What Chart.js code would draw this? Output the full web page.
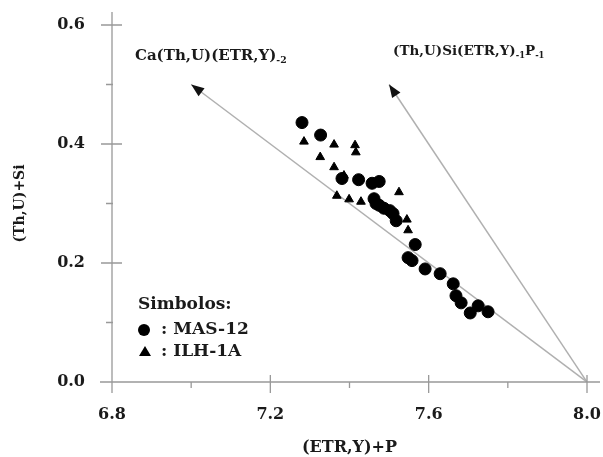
<!DOCTYPE html>
<html>
<head>
<meta charset="utf-8">
<script src="https://cdn.jsdelivr.net/npm/chart.js@4.4.1/dist/chart.umd.min.js"></script>
<style>
  html, body { margin: 0; padding: 0; background: #fff; }
  #wrap { width: 603px; height: 457px; }
</style>
</head>
<body>
<div id="wrap"><canvas id="chart"></canvas></div>
<script>
// MAS-12 (circles)
const masX = [7.280, 7.327, 7.381, 7.423, 7.457, 7.475, 7.462, 7.467, 7.475, 7.487, 7.502, 7.510,
              7.518, 7.566, 7.548, 7.558, 7.591, 7.629, 7.662, 7.669, 7.682, 7.705, 7.725, 7.750];
const masY = [0.436, 0.415, 0.342, 0.340, 0.334, 0.337, 0.308, 0.300, 0.297, 0.292, 0.288, 0.283,
              0.271, 0.231, 0.209, 0.204, 0.190, 0.182, 0.165, 0.145, 0.133, 0.116, 0.128, 0.118];
// ILH-1A (triangles)
const ilhX = [7.285, 7.361, 7.414, 7.416, 7.326, 7.361, 7.386, 7.368, 7.399, 7.429, 7.525, 7.545, 7.548];
const ilhY = [0.404, 0.399, 0.398, 0.386, 0.378, 0.361, 0.347, 0.313, 0.307, 0.303, 0.319, 0.273, 0.255];

// substitution vectors, both start from (8.0, 0)
const arrowStart = [8.0, 0.0];
const arrowEndX = [7.0, 7.5];
const arrowEndY = [0.5, 0.5];

const xTickVals = [6.8, 7.2, 7.6, 8.0];
const yTickVals = [0.0, 0.2, 0.4, 0.6];
const seriesNames = ['MAS-12', 'ILH-1A'];

const FONT = "'DejaVu Serif', 'Liberation Serif', serif";
const AXIS = '#999';
const INK = '#1a1a1a';

function pts(xs, ys) {
  return xs.map((x, i) => ({ x: x, y: ys[i] }));
}

// text with small lowered parts
function drawParts(ctx, parts, x, y, size) {
  let cx = x;
  parts.forEach(p => {
    const s = p.sub ? size * 0.62 : size;
    ctx.font = 'bold ' + s + 'px ' + FONT;
    ctx.fillText(p.t, cx, p.sub ? y + size * 0.3 : y);
    cx += ctx.measureText(p.t).width;
  });
}

const decor = {
  id: 'decor',
  afterDatasetsDraw(chart) {
    const ctx = chart.ctx;
    const xs = chart.scales.x, ys = chart.scales.y;
    ctx.save();

    // arrow heads
    chart.data.datasets.forEach((ds, i) => {
      if (!ds.arrow) return;
      const d = chart.getDatasetMeta(i).data;
      const a = d[0], b = d[1];
      const ang = Math.atan2(b.y - a.y, b.x - a.x);
      const L = 13, W = 5;
      ctx.fillStyle = '#111';
      ctx.beginPath();
      ctx.moveTo(b.x, b.y);
      ctx.lineTo(b.x - L * Math.cos(ang) + W * Math.sin(ang), b.y - L * Math.sin(ang) - W * Math.cos(ang));
      ctx.lineTo(b.x - L * Math.cos(ang) - W * Math.sin(ang), b.y - L * Math.sin(ang) + W * Math.cos(ang));
      ctx.closePath();
      ctx.fill();
    });

    // end-member labels
    ctx.fillStyle = INK;
    ctx.textBaseline = 'middle';
    ctx.textAlign = 'left';
    drawParts(ctx, [{ t: 'Ca(Th,U)(ETR,Y)' }, { t: '-2', sub: true }],
      xs.getPixelForValue(6.858), ys.getPixelForValue(0.547), 15);
    drawParts(ctx, [{ t: '(Th,U)Si(ETR,Y)' }, { t: '-1', sub: true }, { t: 'P' }, { t: '-1', sub: true }],
      xs.getPixelForValue(7.51), ys.getPixelForValue(0.555), 13.5);

    // legend box
    const lx = chart.chartArea.left + 26;
    ctx.font = 'bold 17px ' + FONT;
    ctx.fillText('Simbolos:', lx, 305);
    ctx.fillStyle = '#000';
    ctx.beginPath();
    ctx.arc(lx + 6, 330, 6, 0, Math.PI * 2);
    ctx.fill();
    ctx.beginPath();
    ctx.moveTo(lx + 7, 346);
    ctx.lineTo(lx + 13, 356);
    ctx.lineTo(lx + 1, 356);
    ctx.closePath();
    ctx.fill();
    ctx.fillStyle = INK;
    ctx.font = 'bold 17px ' + FONT;
    ctx.fillText(': ' + seriesNames[0], lx + 23, 330);
    ctx.fillText(': ' + seriesNames[1], lx + 23, 352);
    ctx.restore();
  },
  afterDraw(chart) {
    const ctx = chart.ctx;
    const xs = chart.scales.x, ys = chart.scales.y;
    const { left, right, top, bottom } = chart.chartArea;
    ctx.save();
    ctx.strokeStyle = AXIS;
    ctx.lineWidth = 1.3;
    ctx.beginPath();
    // axis lines
    ctx.moveTo(left, top - 13); ctx.lineTo(left, bottom + 8);
    ctx.moveTo(left - 12, bottom); ctx.lineTo(right + 13, bottom);
    // y ticks
    yTickVals.forEach((v, i) => {
      const py = ys.getPixelForValue(v);
      ctx.moveTo(left - 11, py); ctx.lineTo(left + 10, py);
      if (i < yTickVals.length - 1) {
        const pm = ys.getPixelForValue((v + yTickVals[i + 1]) / 2);
        ctx.moveTo(left - 6, pm); ctx.lineTo(left + 1, pm);
      }
    });
    // x ticks
    xTickVals.forEach((v, i) => {
      const px = xs.getPixelForValue(v);
      ctx.moveTo(px, bottom - 7); ctx.lineTo(px, bottom + 11);
      if (i < xTickVals.length - 1) {
        const pm = xs.getPixelForValue((v + xTickVals[i + 1]) / 2);
        ctx.moveTo(pm, bottom); ctx.lineTo(pm, bottom + 6);
      }
    });
    ctx.stroke();
    ctx.restore();
  }
};

const arrowSets = arrowEndX.map((ex, i) => ({
  data: [{ x: arrowStart[0], y: arrowStart[1] }, { x: ex, y: arrowEndY[i] }],
  showLine: true,
  arrow: true,
  borderColor: '#b0b0b0',
  borderWidth: 1.5,
  pointRadius: 0
}));

new Chart(document.getElementById('chart'), {
  type: 'scatter',
  data: {
    datasets: [
      {
        label: seriesNames[0],
        data: pts(masX, masY),
        pointStyle: 'circle',
        pointRadius: 6,
        borderWidth: 1,
        backgroundColor: '#000',
        borderColor: '#000'
      },
      {
        label: seriesNames[1],
        data: pts(ilhX, ilhY),
        pointStyle: 'triangle',
        pointRadius: 5,
        borderWidth: 1,
        backgroundColor: '#000',
        borderColor: '#000'
      }
    ].concat(arrowSets)
  },
  options: {
    responsive: true,
    maintainAspectRatio: false,
    animation: false,
    layout: { padding: { top: 25, right: 16, left: 0, bottom: 0 } },
    plugins: { legend: { display: false }, tooltip: { enabled: false } },
    scales: {
      x: {
        type: 'linear',
        min: 6.8,
        max: 8.0,
        afterBuildTicks: s => { s.ticks = xTickVals.map(v => ({ value: v })); },
        afterFit: s => { s.height = 75; s.paddingLeft = 0; s.paddingRight = 0; },
        grid: { display: false },
        border: { display: false },
        ticks: {
          padding: 15,
          color: INK,
          font: { family: FONT, size: 16, weight: 'bold' },
          callback: v => v.toFixed(1)
        },
        title: {
          display: true,
          text: '(ETR,Y)+P',
          color: INK,
          font: { family: FONT, size: 16, weight: 'bold' },
          padding: { top: 7, bottom: 0 }
        }
      },
      y: {
        type: 'linear',
        min: 0,
        max: 0.6,
        afterBuildTicks: s => { s.ticks = yTickVals.map(v => ({ value: v })); },
        afterFit: s => { s.width = 112; s.paddingTop = 0; s.paddingBottom = 0; },
        grid: { display: false },
        border: { display: false },
        ticks: {
          padding: 19,
          color: INK,
          font: { family: FONT, size: 16, weight: 'bold' },
          callback: v => v.toFixed(1)
        },
        title: {
          display: true,
          text: '(Th,U)+Si',
          color: INK,
          font: { family: FONT, size: 14, weight: 'bold' },
          padding: { top: 12, bottom: 0 }
        }
      }
    }
  },
  plugins: [decor]
});
</script>
</body>
</html>
